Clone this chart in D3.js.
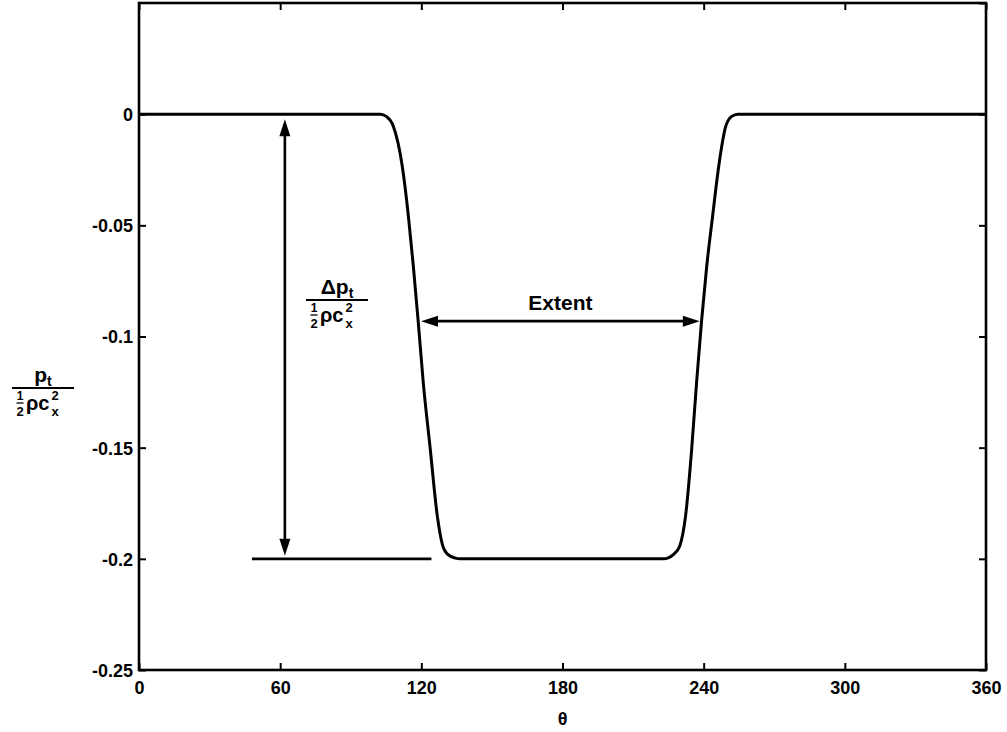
<!DOCTYPE html>
<html>
<head>
<meta charset="utf-8">
<script src="https://cdn.jsdelivr.net/npm/d3@7"></script>
<style>
  body { margin: 0; background: #fff; }
  text { font-family: "Liberation Sans", Arial, Helvetica, sans-serif; font-weight: bold; fill: #000; }
</style>
</head>
<body>
<svg id="chart" width="1007" height="732"></svg>
<script>
// Total-pressure profile around the circumference (theta in degrees)
const theta = [0, 60, 102.6, 105.1, 108.1, 111.9, 114.5, 116.6, 118.7, 120.8, 123.8, 126.8, 128.9, 131.1, 134.5, 136.6,
               180, 223.0, 224.7, 227.2, 229.8, 232.3, 234.9, 237.0, 239.1, 241.3, 243.8, 246.4, 249.4, 251.9, 254.5, 256.5, 300, 360];
const pressure = [0, 0, 0, -0.001, -0.0054, -0.0234, -0.0459, -0.0684, -0.0936, -0.1205, -0.1507, -0.1808, -0.1934, -0.1979, -0.1997, -0.2,
                  -0.2, -0.2, -0.1997, -0.198, -0.1943, -0.1808, -0.1507, -0.1205, -0.0931, -0.0684, -0.0459, -0.0234, -0.0054, -0.001, 0, 0, 0, 0];

const xTicks = [0, 60, 120, 180, 240, 300, 360];
const yTicks = [0, -0.05, -0.1, -0.15, -0.2, -0.25];
const yTickLabels = ["0", "-0.05", "-0.1", "-0.15", "-0.2", "-0.25"];

// Annotations
const depthArrowTheta = 62;           // vertical double arrow for the depth
const depthRange = [0, -0.2];
const refLineTheta = [48, 124.3];     // reference line at the deficit level
const refLineValue = -0.2;
const extentTheta = [119.0, 239.2];   // horizontal double arrow for the extent
const extentValue = -0.0931;
const extentLabel = "Extent";
const xLabel = "\u03b8";

const svg = d3.select("#chart");
const M = { left: 139, right: 986, top: 3, bottom: 670 };

const x = d3.scaleLinear().domain([0, 360]).range([M.left, M.right]);
const y = d3.scaleLinear().domain([-0.25, 0.05]).range([M.bottom, M.top]);

const tickLen = 7;

// Axes: ticks point inward on all four sides
const fmtY = d => yTickLabels[yTicks.indexOf(d)];
const axBottom = svg.append("g").attr("transform", `translate(0,${M.bottom})`)
  .call(d3.axisBottom(x).tickValues(xTicks).tickSize(-tickLen).tickPadding(8).tickFormat(d3.format("d")));
const axTop = svg.append("g").attr("transform", `translate(0,${M.top})`)
  .call(d3.axisTop(x).tickValues(xTicks).tickSize(-tickLen).tickFormat(""));
const axLeft = svg.append("g").attr("transform", `translate(${M.left},0)`)
  .call(d3.axisLeft(y).tickValues(yTicks).tickSize(-tickLen).tickPadding(6).tickFormat(fmtY));
const axRight = svg.append("g").attr("transform", `translate(${M.right},0)`)
  .call(d3.axisRight(y).tickValues(yTicks.concat([0.05])).tickSize(-tickLen).tickFormat(""));

[axBottom, axTop, axLeft, axRight].forEach(g => {
  g.select(".domain").remove();
  g.selectAll(".tick line").attr("stroke", "#000").attr("stroke-width", 2);
  g.selectAll(".tick text").style("font-size", "18px").attr("fill", "#000");
});
axBottom.selectAll(".tick text").attr("dy", "0.9em");
axLeft.selectAll(".tick text").attr("dy", "0.36em");

svg.append("rect")
  .attr("x", M.left).attr("y", M.top)
  .attr("width", M.right - M.left).attr("height", M.bottom - M.top)
  .attr("fill", "none").attr("stroke", "#000").attr("stroke-width", 2.6);

// Profile curve
const line = d3.line().x((d, i) => x(theta[i])).y((d, i) => y(pressure[i])).curve(d3.curveMonotoneX);
svg.append("path")
  .datum(pressure)
  .attr("d", line)
  .attr("fill", "none").attr("stroke", "#000").attr("stroke-width", 3).attr("stroke-linejoin", "round");

// Reference line at the deficit level
svg.append("line")
  .attr("x1", x(refLineTheta[0])).attr("x2", x(refLineTheta[1]))
  .attr("y1", y(refLineValue)).attr("y2", y(refLineValue))
  .attr("stroke", "#000").attr("stroke-width", 2.6);

// Arrowhead helper: tip at (tx,ty), pointing in direction (dx,dy)
function arrowHead(tx, ty, dx, dy, len, half) {
  const px = -dy, py = dx;
  const bx = tx - dx * len, by = ty - dy * len;
  svg.append("path")
    .attr("d", `M${tx},${ty}L${bx + px * half},${by + py * half}L${bx - px * half},${by - py * half}Z`)
    .attr("fill", "#000");
}

// Vertical depth arrow
const ax = x(depthArrowTheta);
const ay1 = y(depthRange[0]) + 5, ay2 = y(depthRange[1]) - 3;
svg.append("line").attr("x1", ax).attr("x2", ax).attr("y1", ay1 + 10).attr("y2", ay2 - 10)
  .attr("stroke", "#000").attr("stroke-width", 2.6);
arrowHead(ax, ay1, 0, -1, 17, 5.5);
arrowHead(ax, ay2, 0, 1, 17, 5.5);

// Horizontal extent arrow
const ey = y(extentValue);
const ex1 = x(extentTheta[0]) + 2, ex2 = x(extentTheta[1]) - 2;
svg.append("line").attr("x1", ex1 + 10).attr("x2", ex2 - 10).attr("y1", ey).attr("y2", ey)
  .attr("stroke", "#000").attr("stroke-width", 2.6);
arrowHead(ex1, ey, -1, 0, 17, 5.5);
arrowHead(ex2, ey, 1, 0, 17, 5.5);

svg.append("text")
  .attr("x", (ex1 + ex2) / 2).attr("y", ey - 11)
  .attr("text-anchor", "middle").style("font-size", "21px")
  .text(extentLabel);

// Stacked fraction: numerator (main + subscript) over ½ρc_x²
function pressureFraction(cx, barY, numMain, numSub, barHalf) {
  const g = svg.append("g");
  const num = g.append("text").attr("x", cx).attr("y", barY - 6)
    .attr("text-anchor", "middle").style("font-size", "21px");
  num.append("tspan").text(numMain);
  num.append("tspan").attr("dy", 4).style("font-size", "14px").text(numSub);

  g.append("line").attr("x1", cx - barHalf).attr("x2", cx + barHalf)
    .attr("y1", barY).attr("y2", barY).attr("stroke", "#000").attr("stroke-width", 2.2);

  // one-half, stacked
  const hx = cx - barHalf + 8;
  g.append("text").attr("x", hx).attr("y", barY + 12).attr("text-anchor", "middle")
    .style("font-size", "12px").text("1");
  g.append("line").attr("x1", hx - 3.5).attr("x2", hx + 3.5).attr("y1", barY + 15).attr("y2", barY + 15)
    .attr("stroke", "#000").attr("stroke-width", 1.3);
  g.append("text").attr("x", hx).attr("y", barY + 28).attr("text-anchor", "middle")
    .style("font-size", "13px").text("2");

  g.append("text").attr("x", hx + 6).attr("y", barY + 22)
    .style("font-size", "20px").text("\u03c1c");

  // superscript 2 over subscript x
  const sx = hx + 35;
  g.append("text").attr("x", sx).attr("y", barY + 12).attr("text-anchor", "middle")
    .style("font-size", "13px").text("2");
  g.append("text").attr("x", sx).attr("y", barY + 28).attr("text-anchor", "middle")
    .style("font-size", "13px").text("x");
}

// Y-axis label and depth label
pressureFraction(43, 388, "p", "t", 31);
pressureFraction(337, 300, "\u0394p", "t", 31);

// X-axis label
svg.append("text").attr("x", (M.left + M.right) / 2).attr("y", 725)
  .attr("text-anchor", "middle").style("font-size", "18px").text(xLabel);
</script>
</body>
</html>
